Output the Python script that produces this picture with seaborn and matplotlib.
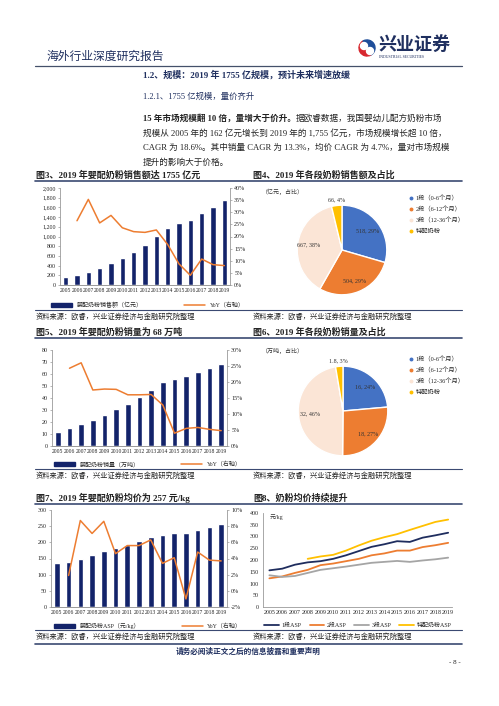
import numpy as np
import pandas as pd
import seaborn as sns
import matplotlib.pyplot as plt
from matplotlib.lines import Line2D
from matplotlib.patches import Patch, Wedge

# ---- data ----
years = [str(y) for y in range(2005, 2020)]
sales = [162, 200, 270, 355, 445, 550, 675, 830, 1020, 1185, 1285, 1335, 1490, 1615, 1755]
sales_yoy = [26.5, 35.3, 25.6, 28.7, 23.6, 22.0, 21.7, 22.7, 16.7, 8.7, 4.0, 10.7, 8.4, 8.0]
volume = [12, 15, 18.5, 22, 26, 30.5, 35, 41, 47, 53.5, 55.5, 58.5, 62, 65, 68]
volume_yoy = [24.3, 26.0, 17.5, 17.8, 17.7, 16.0, 16.0, 16.1, 12.8, 4.0, 5.5, 5.8, 5.2, 4.8]
asp = [136, 138, 149, 161, 174, 181, 192, 203, 215, 222, 230, 229, 239, 248, 257]
asp_yoy = [1.9, 8.7, 7.1, 8.6, 4.6, 5.6, 5.6, 6.3, 3.4, 4.1, -1.0, 4.8, 3.8, 3.7]

stage_names = ['1段（0-6个月）', '2段（6-12个月）', '3段（12-36个月）', '特配奶粉']
stage_sales = [518, 504, 667, 66]
stage_sales_lbl = ['518, 29%', '504, 29%', '667, 38%', '66, 4%']
stage_vol = [16, 18, 32, 1.8]
stage_vol_lbl = ['16, 24%', '18, 27%', '32, 46%', '1.8, 3%']

asp_s1 = [156, 163, 180, 190, 195, 205, 220, 238, 256, 267, 280, 277, 295, 305, 316]
asp_s2 = [122, 130, 145, 158, 178, 185, 195, 205, 220, 228, 240, 240, 255, 263, 273]
asp_s3 = [135, 128, 132, 145, 158, 165, 172, 180, 188, 192, 196, 192, 198, 203, 210]
asp_sp = [None, None, None, 205, 215, 222, 240, 262, 282, 297, 310, 328, 345, 362, 372]
asp_names = ['1段ASP', '2段ASP', '3段ASP', '特配奶粉ASP']

NAVY = '#13236a'
ORANGE = '#ED7D31'
PIE_COLORS = ['#4472C4', '#ED7D31', '#FBE5D6', '#FFC000']
LINE_COLORS = ['#1F2D5E', '#ED7D31', '#A5A5A5', '#FFC000']
TXT = '#222222'
HEAD = '#1F2F5F'

sns.set_style('white')
plt.rcParams['font.family'] = ['Liberation Serif', 'Noto Sans CJK SC', 'DejaVu Sans']
plt.rcParams['axes.unicode_minus'] = False

W, H = 499, 706
fig = plt.figure(figsize=(W / 100, H / 100), dpi=100)


def box(l, t, r, b):
    return [l / W, 1 - b / H, (r - l) / W, (b - t) / H]


# pixel canvas for page text and rules
pg = fig.add_axes([0, 0, 1, 1])
pg.set_xlim(0, W)
pg.set_ylim(H, 0)
pg.axis('off')

# header
pg.text(47, 57, '海外行业深度研究报告', fontsize=8.5, color=HEAD, va='center')
pg.add_patch(Wedge((367, 48), 8, 60, 240, color='#D7282F'))
pg.add_patch(Wedge((367, 48), 8, 240, 60, color='#1F4E9A'))
pg.add_patch(Wedge((364, 46), 3.5, 0, 360, color='white'))
pg.add_patch(Wedge((370, 51), 3.5, 0, 360, color='white'))
pg.text(378, 45, '兴业证券', fontsize=13, fontweight='bold', color=HEAD, va='center')
pg.text(379, 57, 'INDUSTRIAL SECURITIES', fontsize=2.8, color=HEAD, va='center')
pg.plot([35, 462], [66, 66], color='#44506a', lw=0.9)

pg.text(143, 75, '1.2、规模：2019 年 1755 亿规模，预计未来增速放缓', fontsize=6.5,
        fontweight='bold', color=HEAD, va='center')
pg.text(143, 97, '1.2.1、1755 亿规模，量价齐升', fontsize=6, color=HEAD, va='center')

t1 = pg.text(143, 118, '15 年市场规模翻 10 倍，量增大于价升。', fontsize=6.2,
             fontweight='bold', color=TXT, va='center')
pg.annotate('据欧睿数据，我国婴幼儿配方奶粉市场', xy=(1, 0), xycoords=t1, va='bottom',
            fontsize=6.2, color=TXT)
para = ['规模从 2005 年的 162 亿元增长到 2019 年的 1,755 亿元，市场规模增长超 10 倍，',
        'CAGR 为 18.6%。其中销量 CAGR 为 13.3%，均价 CAGR 为 4.7%，量对市场规模',
        '提升的影响大于价格。']
for i, line in enumerate(para):
    pg.text(143, 133 + 15 * i, line, fontsize=6.2, color=TXT, va='center')

# figure titles, rules, sources
titles = [(175, '图3、2019 年婴配奶粉销售额达 1755 亿元', '图4、2019 年各段奶粉销售额及占比'),
          (332, '图5、2019 年婴配奶粉销量为 68 万吨', '图6、2019 年各段奶粉销量及占比'),
          (498, '图7、2019 年婴配奶粉均价为 257 元/kg', '图8、奶粉均价持续提升')]
for y, a, b in titles:
    pg.text(36, y, a, fontsize=6.5, fontweight='bold', color=TXT, va='center')
    pg.text(253, y, b, fontsize=6.5, fontweight='bold', color=TXT, va='center')
    pg.plot([35, 462], [y + 6, y + 6], color='#3b4a72', lw=1.2)
for y in [310, 469, 630]:
    pg.plot([35, 462], [y, y], color='#3b4a72', lw=0.8)
    pg.text(36, y + 6, '资料来源：欧睿，兴业证券经济与金融研究院整理', fontsize=5.2,
            color=TXT, va='center')
    pg.text(253, y + 6, '资料来源：欧睿，兴业证券经济与金融研究院整理', fontsize=5.2,
            color=TXT, va='center')
pg.plot([35, 462], [644, 644], color='#3b4a72', lw=1.2)
pg.text(248, 652, '请务必阅读正文之后的信息披露和重要声明', fontsize=5.5,
        fontweight='bold', color=HEAD, ha='center', va='center')
pg.text(455, 663, '- 8 -', fontsize=5, color=TXT, ha='center', va='center')


def style(ax, right=False):
    for s in ['top', 'right', 'left', 'bottom']:
        ax.spines[s].set_visible(False)
    ax.spines['bottom'].set_visible(True)
    ax.spines['bottom'].set_color('#9a9a9a')
    ax.spines['bottom'].set_linewidth(0.6)
    side = 'right' if right else 'left'
    ax.spines[side].set_visible(True)
    ax.spines[side].set_color('#9a9a9a')
    ax.spines[side].set_linewidth(0.6)
    ax.tick_params(labelsize=4.3, length=1.5, width=0.5, color='#9a9a9a', pad=1.5)
    ax.set_xlabel('')
    ax.set_ylabel('')
    ax.patch.set_alpha(0)


def bar_yoy(rect, vals, yoy, ymax, ystep, yfmt, rlim, rstep, leg_y, bar_lbl):
    ax = fig.add_axes(box(*rect))
    df = pd.DataFrame({'year': years, 'v': vals})
    sns.barplot(data=df, x='year', y='v', color=NAVY, width=0.48, saturation=1, ax=ax)
    ax.set_ylim(0, ymax)
    ax.set_yticks(np.arange(0, ymax + 1, ystep))
    ax.set_yticklabels([yfmt(v) for v in np.arange(0, ymax + 1, ystep)])
    ax.set_xlim(-0.5, len(years) - 0.5)
    style(ax)
    ax.tick_params(axis='x', labelsize=4.1, length=0, pad=2)
    ax2 = ax.twinx()
    sns.lineplot(x=np.arange(1, len(years)), y=yoy, color=ORANGE, lw=1.1, ax=ax2)
    ax2.set_ylim(*rlim)
    ticks = np.arange(rlim[0], rlim[1] + 0.1, rstep)
    ax2.set_yticks(ticks)
    ax2.set_yticklabels([f'{t:.0f}%' for t in ticks])
    style(ax2, right=True)
    handles = [Patch(color=NAVY), Line2D([], [], color=ORANGE, lw=1.1)]
    fig.legend(handles, [bar_lbl, 'YoY（右轴）'], loc='center', ncol=2, frameon=False,
               fontsize=4.3, handlelength=3.5, handleheight=0.6, columnspacing=7,
               bbox_to_anchor=(148 / W, 1 - leg_y / H))


bar_yoy((60, 188, 230, 285), sales, sales_yoy, 2000, 200, lambda v: f'{v:,.0f}',
        (0, 40), 5, 305, '婴配奶粉销售额（亿元）')
bar_yoy((52, 350, 227, 446), volume, volume_yoy, 80, 10, lambda v: f'{v:.0f}',
        (0, 30), 5, 464, '婴配奶粉销量（万吨）')
bar_yoy((51, 510, 227, 607), asp, asp_yoy, 300, 50, lambda v: f'{v:.0f}',
        (-2, 10), 2, 626, '婴配奶粉ASP（元/kg）')


def pie(rect, vals, lbls, unit, unit_xy, leg_y):
    ax = fig.add_axes(box(*rect))
    wedges, _ = ax.pie(vals, colors=PIE_COLORS, startangle=90, counterclock=False,
                       wedgeprops=dict(edgecolor='white', linewidth=1.0))
    for w, lb, r in zip(wedges, lbls, [0.72, 0.75, 0.75, 1.12]):
        th = np.deg2rad((w.theta1 + w.theta2) / 2)
        ax.text(r * np.cos(th), r * np.sin(th), lb, fontsize=4.3, color='#333333',
                ha='center', va='center')
    ax.set_aspect('equal')
    pg.text(unit_xy[0], unit_xy[1], unit, fontsize=4.3, color='#333333', va='center')
    handles = [Line2D([], [], marker='o', ls='', ms=1.8, color=c) for c in PIE_COLORS]
    fig.legend(handles, stage_names, loc='upper left', frameon=False, fontsize=4.5,
               handlelength=0.6, handletextpad=0.5, labelspacing=0.8,
               bbox_to_anchor=(403 / W, 1 - leg_y / H))


pie((286, 194, 398, 306), stage_sales, stage_sales_lbl, '（亿元，占比）', (262, 192), 189)
pie((287, 355, 399, 467), stage_vol, stage_vol_lbl, '（万吨，占比）', (262, 351), 350)

# fig 8 lines
ax8 = fig.add_axes(box(263, 513, 452, 607))
long = pd.DataFrame({'year': list(range(2005, 2020)) * 4,
                     'price': asp_s1 + asp_s2 + asp_s3 + asp_sp,
                     'series': sum([[n] * 15 for n in asp_names], [])}).dropna()
long['price'] = long['price'].astype(float)
sns.lineplot(data=long, x='year', y='price', hue='series', palette=LINE_COLORS,
             lw=1.3, legend=False, ax=ax8)
ax8.set_ylim(0, 400)
ax8.set_yticks(range(0, 401, 50))
ax8.set_xlim(2004.5, 2019.3)
ax8.set_xticks(range(2005, 2020))
style(ax8)
ax8.tick_params(axis='x', labelsize=4.3, length=0, pad=2)
ax8.text(2005.0, 395, '元/kg', fontsize=4.3, color='#333333', va='top')
handles = [Line2D([], [], color=c, lw=1.3) for c in LINE_COLORS]
fig.legend(handles, asp_names, loc='center', ncol=4, frameon=False, fontsize=4.3,
           handlelength=2.4, handletextpad=0.5, columnspacing=1.3,
           bbox_to_anchor=(358 / W, 1 - 625 / H))

fig.savefig('out.png', dpi=100, facecolor='white')
